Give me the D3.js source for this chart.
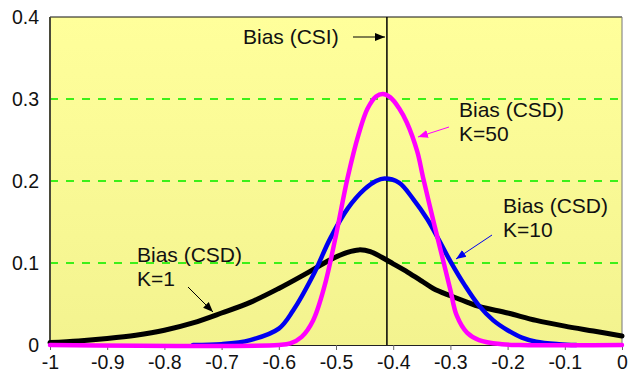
<!DOCTYPE html>
<html>
<head>
<meta charset="utf-8">
<script src="https://cdn.jsdelivr.net/npm/d3@7"></script>
<style>
  body { margin: 0; background: #fff; }
  svg text { font-family: "Liberation Sans", Arial, Helvetica, sans-serif; fill: #111; }
</style>
</head>
<body>
<svg id="chart" width="628" height="376"></svg>
<script>
// values
const xTicks = [-1, -0.9, -0.8, -0.7, -0.6, -0.5, -0.4, -0.3, -0.2, -0.1, 0];
const xTickLabels = ["-1", "-0.9", "-0.8", "-0.7", "-0.6", "-0.5", "-0.4", "-0.3", "-0.2", "-0.1", "0"];
const yTicks = [0, 0.1, 0.2, 0.3, 0.4];
const yTickLabels = ["0", "0.1", "0.2", "0.3", "0.4"];
const biasCSI = -0.411;

// K=1 (black)
const k1X = [-1, -0.95, -0.9, -0.85, -0.8, -0.75, -0.7, -0.65, -0.6, -0.55, -0.51, -0.48, -0.46, -0.44, -0.42, -0.4, -0.375, -0.35, -0.33, -0.3, -0.27, -0.25, -0.2, -0.15, -0.1, -0.05, 0];
const k1Y = [0.003, 0.005, 0.008, 0.012, 0.018, 0.027, 0.039, 0.052, 0.069, 0.088, 0.104, 0.113, 0.116, 0.114, 0.107, 0.099, 0.089, 0.078, 0.069, 0.060, 0.052, 0.047, 0.039, 0.030, 0.023, 0.017, 0.011];
// K=10 (blue)
const k10X = [-0.75, -0.7, -0.65, -0.6, -0.575, -0.54, -0.51, -0.48, -0.45, -0.43, -0.415, -0.39, -0.365, -0.34, -0.32, -0.3, -0.275, -0.25, -0.225, -0.2, -0.175, -0.15, -0.11, -0.08];
const k10Y = [0, 0.001, 0.006, 0.020, 0.042, 0.085, 0.130, 0.166, 0.190, 0.200, 0.203, 0.198, 0.178, 0.153, 0.128, 0.102, 0.073, 0.048, 0.030, 0.018, 0.009, 0.004, 0.001, 0];
// K=50 (magenta)
const k50X = [-1, -0.6, -0.58, -0.56, -0.54, -0.52, -0.5, -0.48, -0.46, -0.445, -0.43, -0.418, -0.405, -0.39, -0.376, -0.358, -0.348, -0.33, -0.313, -0.3, -0.289, -0.271, -0.25, -0.21, -0.18, 0];
const k50Y = [0, 0, 0.002, 0.010, 0.030, 0.072, 0.134, 0.203, 0.258, 0.288, 0.303, 0.306, 0.302, 0.289, 0.271, 0.236, 0.205, 0.152, 0.104, 0.067, 0.036, 0.015, 0.006, 0.001, 0, 0];

const margin = {left: 50, top: 17, right: 6, bottom: 31};
const W = 628, H = 376;
const svg = d3.select("#chart");

const x = d3.scaleLinear().domain([-1, 0]).range([margin.left, W - margin.right]);
const y = d3.scaleLinear().domain([0, 0.4]).range([H - margin.bottom, margin.top]);

// background gradient
const defs = svg.append("defs");
const grad = defs.append("linearGradient")
  .attr("id", "bg").attr("x1", 0).attr("y1", 0).attr("x2", 0).attr("y2", 1);
grad.append("stop").attr("offset", "0%").attr("stop-color", "#ffff9b");
grad.append("stop").attr("offset", "100%").attr("stop-color", "#f3f38f");

function marker(id, color) {
  defs.append("marker").attr("id", id)
    .attr("viewBox", "0 0 10 10").attr("refX", 10).attr("refY", 5)
    .attr("markerWidth", 10).attr("markerHeight", 10)
    .attr("markerUnits", "userSpaceOnUse").attr("orient", "auto")
    .append("path").attr("d", "M0,1L10,5L0,9Z").attr("fill", color);
}
marker("ar-black", "#000");
marker("ar-blue", "#0000ee");
marker("ar-mag", "#ff00ff");

svg.append("rect")
  .attr("x", x(-1)).attr("y", y(0.4))
  .attr("width", x(0) - x(-1)).attr("height", y(0) - y(0.4))
  .attr("fill", "url(#bg)");

// grid
svg.append("g").selectAll("line").data(yTicks.filter(d => d > 0 && d < 0.4)).join("line")
  .attr("x1", x(-1)).attr("x2", x(0))
  .attr("y1", d => Math.round(y(d))).attr("y2", d => Math.round(y(d)))
  .attr("stroke", "#3cf018").attr("stroke-width", 2)
  .attr("shape-rendering", "crispEdges")
  .attr("stroke-dasharray", "8,8");

// frame
svg.append("line").attr("x1", x(-1)).attr("x2", x(0)).attr("y1", y(0.4)).attr("y2", y(0.4))
  .attr("stroke", "#111").attr("stroke-width", 1.2);
svg.append("line").attr("x1", x(0)).attr("x2", x(0)).attr("y1", y(0.4)).attr("y2", y(0))
  .attr("stroke", "#777").attr("stroke-width", 1);
svg.append("line").attr("x1", x(-1)).attr("x2", x(-1)).attr("y1", y(0.4)).attr("y2", y(0))
  .attr("stroke", "#4a4a3a").attr("stroke-width", 2);

// axes
const xAxis = svg.append("g").attr("transform", `translate(0,${y(0)})`)
  .call(d3.axisBottom(x).tickValues(xTicks).tickFormat((d, i) => xTickLabels[i]).tickSize(5).tickPadding(5));
xAxis.select(".domain").attr("stroke", "#222");
xAxis.selectAll(".tick line").attr("stroke", "#666");
xAxis.selectAll("text").style("font-size", "19.5px").attr("fill", "#111");

const yAxis = svg.append("g").attr("transform", `translate(${x(-1)},0)`)
  .call(d3.axisLeft(y).tickValues(yTicks).tickFormat((d, i) => yTickLabels[i]).tickSize(0).tickPadding(11));
yAxis.select(".domain").remove();
yAxis.selectAll("text").style("font-size", "19.5px").attr("fill", "#111");

// Bias (CSI) vertical line
svg.append("line").attr("x1", x(biasCSI)).attr("x2", x(biasCSI))
  .attr("y1", y(0.4)).attr("y2", y(0))
  .attr("stroke", "#000").attr("stroke-width", 1.5);

// curves
const line = d3.line().x(d => x(d[0])).y(d => Math.min(y(0), y(d[1]))).curve(d3.curveCatmullRom.alpha(0.5));
const series = [
  {xs: k1X, ys: k1Y, color: "#000000", w: 5},
  {xs: k10X, ys: k10Y, color: "#0000f0", w: 4.5},
  {xs: k50X, ys: k50Y, color: "#ff00ff", w: 4.5}
];
svg.append("g").selectAll("path").data(series).join("path")
  .attr("d", s => line(s.xs.map((v, i) => [v, s.ys[i]])))
  .attr("fill", "none").attr("stroke", s => s.color)
  .attr("stroke-width", s => s.w).attr("stroke-linejoin", "round").attr("stroke-linecap", "round");

// annotations
const notes = [
  {lines: ["Bias (CSI)"], tx: 243, ty: 44, a: [353, 37, 385, 37], color: "#000", m: "ar-black"},
  {lines: ["Bias (CSD)", "K=50"], tx: 459, ty: 117, a: [449, 127, 418, 137], color: "#ff00ff", m: "ar-mag"},
  {lines: ["Bias (CSD)", "K=10"], tx: 503, ty: 213, a: [492, 235, 456, 259], color: "#0000ee", m: "ar-blue"},
  {lines: ["Bias (CSD)", "K=1"], tx: 137, ty: 262, a: [188, 287, 213, 312], color: "#000", m: "ar-black"}
];
const ng = svg.append("g");
notes.forEach(n => {
  const t = ng.append("text").attr("x", n.tx).attr("y", n.ty).style("font-size", "21px");
  n.lines.forEach((l, i) => t.append("tspan").attr("x", n.tx).attr("dy", i === 0 ? 0 : 24).text(l));
  ng.append("line").attr("x1", n.a[0]).attr("y1", n.a[1]).attr("x2", n.a[2]).attr("y2", n.a[3])
    .attr("stroke", n.color).attr("stroke-width", 1).attr("marker-end", `url(#${n.m})`);
});
</script>
</body>
</html>
